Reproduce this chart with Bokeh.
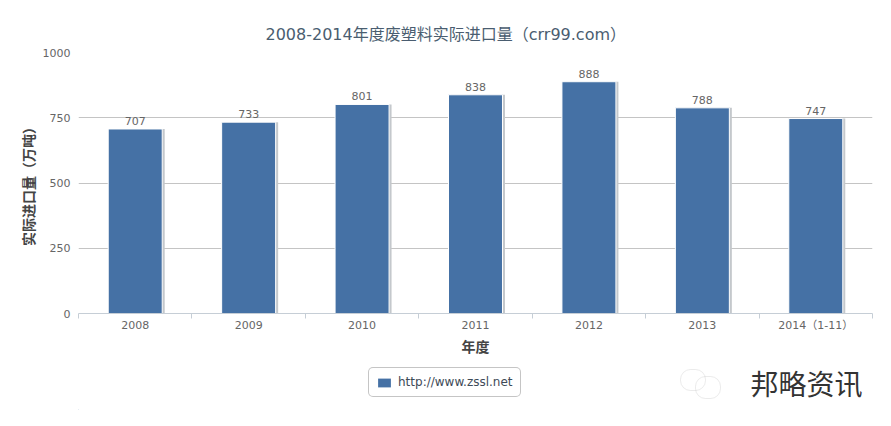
from bokeh.plotting import figure
from bokeh.layouts import column
from bokeh.embed import file_html
from bokeh.resources import INLINE
from bokeh.models import (Range1d, LinearAxis, FixedTicker, Legend, LegendItem,
                          ColumnDataSource, Label, BoxAnnotation, Title)
from bokeh.core.properties import value
from bokeh.transform import dodge

categories = ["2008", "2009", "2010", "2011", "2012", "2013", "2014（1-11）"]
values = [707, 733, 801, 838, 888, 788, 747]
y_ticks = [0, 250, 500, 750, 1000]
title_text = "2008-2014年度废塑料实际进口量（crr99.com）"
legend_text = "http://www.zssl.net"
watermark = "邦略资讯"

FONT = "DejaVu Sans, Noto Sans CJK SC"
BAR = "#4571a5"

n = len(categories)
centers = [i + 0.5 for i in range(n)]
edges = list(range(n + 1))

p = figure(width=875, height=358, output_backend="svg", toolbar_location=None,
           x_range=Range1d(0, n), y_range=Range1d(0, 1000),
           frame_width=794, frame_height=261, min_border_left=78, min_border_right=3,
           min_border_top=52, min_border_bottom=45, x_axis_location=None, y_axis_location="left",
           background_fill_color="white", border_fill_color="white")
p.outline_line_color = None
p.xgrid.visible = False
p.ygrid.grid_line_color = "#c4c4c4"
p.ygrid.ticker = FixedTicker(ticks=y_ticks)

p.title = Title(text=title_text, align="left", offset=187, text_font=FONT, text_font_size="16px",
                text_font_style="normal", text_color="#4a5d70", standoff=18)

ya = p.yaxis[0]
ya.ticker = FixedTicker(ticks=y_ticks)
ya.axis_line_color = None
ya.major_tick_line_color = None
ya.minor_tick_line_color = None
ya.major_tick_out = 0
ya.major_tick_in = 0
ya.major_label_text_font = FONT
ya.major_label_text_font_size = "11px"
ya.major_label_text_color = "#666666"
ya.major_label_standoff = 8
ya.axis_label = "实际进口量（万吨）"
ya.axis_label_text_font = "Noto Sans CJK SC"
ya.axis_label_text_font_size = "14px"
ya.axis_label_text_font_style = "bold"
ya.axis_label_text_color = "#444444"
ya.axis_label_standoff = 2

# tick marks between categories
edge_axis = LinearAxis(ticker=FixedTicker(ticks=edges),
                       major_label_overrides={e: "" for e in edges})
edge_axis.major_label_standoff = 0
edge_axis.major_tick_in = 0
edge_axis.major_tick_out = 5
edge_axis.minor_tick_line_color = None
edge_axis.axis_line_color = "#c6ced6"
edge_axis.major_tick_line_color = "#c6ced6"
p.add_layout(edge_axis, "below")

xa = LinearAxis(ticker=FixedTicker(ticks=centers),
                major_label_overrides={c: t for c, t in zip(centers, categories)})
xa.axis_line_color = None
xa.major_tick_line_color = None
xa.minor_tick_line_color = None
xa.major_tick_in = 0
xa.major_tick_out = 0
xa.major_label_text_font = FONT
xa.major_label_text_font_size = "11px"
xa.major_label_text_color = "#666666"
xa.major_label_standoff = 0
xa.axis_label = "年度"
xa.axis_label_text_font = "Noto Sans CJK SC"
xa.axis_label_text_font_size = "14px"
xa.axis_label_text_font_style = "bold"
xa.axis_label_text_color = "#444444"
xa.axis_label_standoff = 1
p.add_layout(xa, "below")

src = ColumnDataSource(dict(x=centers, top=values, label=[str(v) for v in values]))
p.vbar(x=dodge("x", 0.022), top="top", width=0.476, bottom=0, source=src,
       fill_color="#c4c8cc", line_color=None)
p.vbar(x="x", top="top", width=0.476, bottom=0, source=src,
       fill_color=BAR, line_color="white", line_width=1)
p.text(x="x", y="top", text="label", source=src, text_align="center", text_baseline="alphabetic",
       y_offset=-8, text_font_size="11px", text_color="#666666",
       text_font=value("DejaVu Sans"))

# strip below the chart: legend and watermark (its frame lines up with the chart's frame)
p2 = figure(width=875, height=52, output_backend="svg", toolbar_location=None,
            x_range=Range1d(0, 794), y_range=Range1d(0, 52),
            frame_width=794, frame_height=52,
            min_border_left=78, min_border_right=3, min_border_top=0, min_border_bottom=0,
            x_axis_location=None, y_axis_location=None,
            background_fill_color="white", border_fill_color="white")
p2.outline_line_color = None
p2.xgrid.visible = False
p2.ygrid.visible = False
# kept outside the visible range: it only supplies the legend's colour swatch
swatch = p2.vbar(x=[-100], top=[1], width=1, bottom=0, fill_color=BAR, line_color=None)

legend = Legend(items=[LegendItem(label=legend_text, renderers=[swatch])], location=(290, 13),
                orientation="horizontal", border_line_color="#8c8c8c", border_line_width=1,
                background_fill_color="white", background_fill_alpha=1, border_radius=5,
                label_text_font="DejaVu Sans", label_text_font_size="12px", label_text_color="#3e4a57",
                glyph_width=16, glyph_height=11, padding=7, margin=0, spacing=0, label_standoff=6,
                label_height=13)
p2.add_layout(legend, "center")

p2.add_layout(Label(x=672, y=28, x_units="screen", y_units="screen", text=watermark,
                    text_font="Noto Sans CJK SC", text_font_size="28px", text_color="#333333",
                    text_align="left", text_baseline="middle", text_font_style="normal"))
for l, r, b, t in [(602, 627, 20, 41), (617, 642, 12, 34)]:
    p2.add_layout(BoxAnnotation(left=l, right=r, bottom=b, top=t, left_units="screen", right_units="screen",
                                bottom_units="screen", top_units="screen", fill_alpha=0,
                                line_color="#bdbdbd", line_width=1,
                                border_radius=10))

open("out.html", "w").write(file_html(column(p, p2, spacing=0), INLINE))
